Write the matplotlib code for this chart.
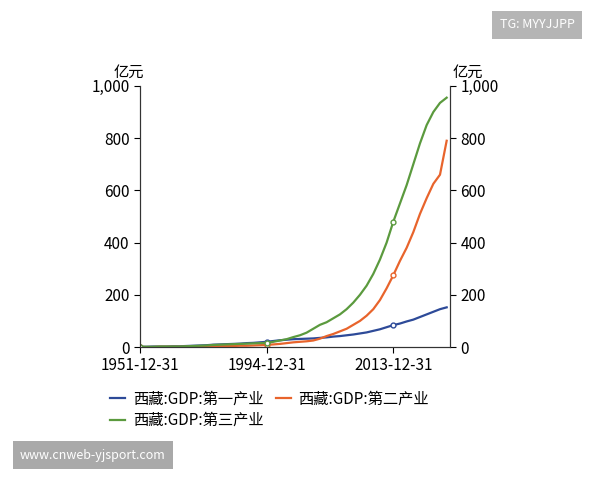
import matplotlib.pyplot as plt
from matplotlib import font_manager
import numpy as np

# pick whichever CJK font is actually registered
cjk = [f.name for f in font_manager.fontManager.ttflist if "CJK" in f.name]
plt.rcParams["font.family"] = sorted(set(cjk), key=lambda n: ("SC" not in n, n))[:1] + ["DejaVu Sans"]

# data years (sparse before 1994, annual after)
years = [1951, 1952, 1955, 1957, 1959, 1962, 1965, 1970, 1975, 1978, 1980, 1985,
         1987, 1988, 1989, 1990, 1991, 1992, 1993] + list(range(1994, 2022))

primary = [1, 1, 2, 2, 2, 3, 3, 4, 5, 6, 7, 9, 10, 11, 12, 13, 15, 16, 18,
           20, 23, 26, 28, 30, 31, 32, 33, 35, 37, 40, 42, 45, 48, 52, 56, 62, 68, 76, 84,
           90, 98, 105, 115, 125, 135, 145, 152]
secondary = [0, 0, 0, 1, 1, 1, 1, 1, 2, 2, 2, 3, 3, 4, 4, 5, 5, 6, 7,
             8, 10, 12, 15, 18, 20, 22, 25, 32, 42, 50, 60, 70, 85, 100, 120, 145, 180, 225, 275,
             330, 380, 440, 510, 570, 625, 660, 790]
tertiary = [1, 1, 1, 2, 2, 2, 2, 3, 4, 5, 6, 8, 9, 10, 11, 12, 13, 14, 15,
            16, 20, 25, 30, 38, 45, 55, 70, 85, 95, 110, 125, 145, 170, 200, 235, 280, 335, 400, 480,
            550, 620, 700, 780, 850, 900, 935, 955]

names = ["西藏:GDP:第一产业", "西藏:GDP:第二产业", "西藏:GDP:第三产业"]
colors = ["#2d4a98", "#e8642c", "#5b9a3e"]
tick_years = [1951, 1994, 2013]

fig = plt.figure(figsize=(6, 4.8), dpi=100)
ax = fig.add_axes([0.233, 0.277, 0.517, 0.544])
x = np.arange(len(years))
lines = []
for vals, name, c in zip([primary, secondary, tertiary], names, colors):
    ln, = ax.plot(x, vals, color=c, lw=1.6, label=name)
    lines.append(ln)
    idx = [years.index(y) for y in tick_years]
    ax.plot(idx, [vals[i] for i in idx], "o", ms=3.5, mfc="white", mec=c, mew=1)

ax.set_xlim(0, len(years) - 0.5)
ax.set_ylim(0, 1000)
ax.set_xticks([years.index(y) for y in tick_years])
ax.set_xticklabels([f"{y}-12-31" for y in tick_years])
yt = [0, 200, 400, 600, 800, 1000]
ax.set_yticks(yt)
ax.set_yticklabels([f"{v:,}" for v in yt])
ax2 = ax.twinx()
ax2.set_ylim(0, 1000)
ax2.set_yticks(yt)
ax2.set_yticklabels([f"{v:,}" for v in yt])
for a in (ax, ax2):
    a.spines["top"].set_visible(False)
    a.tick_params(labelsize=11, length=4)
    for s in a.spines.values():
        s.set_color("#333333")

fig.text(0.19, 0.84, "亿元", fontsize=11)
fig.text(0.755, 0.84, "亿元", fontsize=11)

# order so row 1 = first, second; row 2 = third
order = [0, 2, 1]
fig.legend([lines[i] for i in order], [names[i] for i in order], loc="upper left",
           bbox_to_anchor=(0.16, 0.215), ncol=2, frameon=False,
           fontsize=11, handlelength=1.0, columnspacing=0.8, handletextpad=0.5,
           labelspacing=0.3)

fig.text(0.895, 0.948, "TG: MYYJJPP", fontsize=9, color="white", ha="center", va="center",
         bbox=dict(boxstyle="square,pad=0.6", fc="#b5b5b5", ec="none"))
fig.text(0.155, 0.052, "www.cnweb-yjsport.com", fontsize=9, color="white", ha="center",
         va="center", bbox=dict(boxstyle="square,pad=0.6", fc="#a9a9a9", ec="none"))

fig.savefig("out.png", dpi=100)
